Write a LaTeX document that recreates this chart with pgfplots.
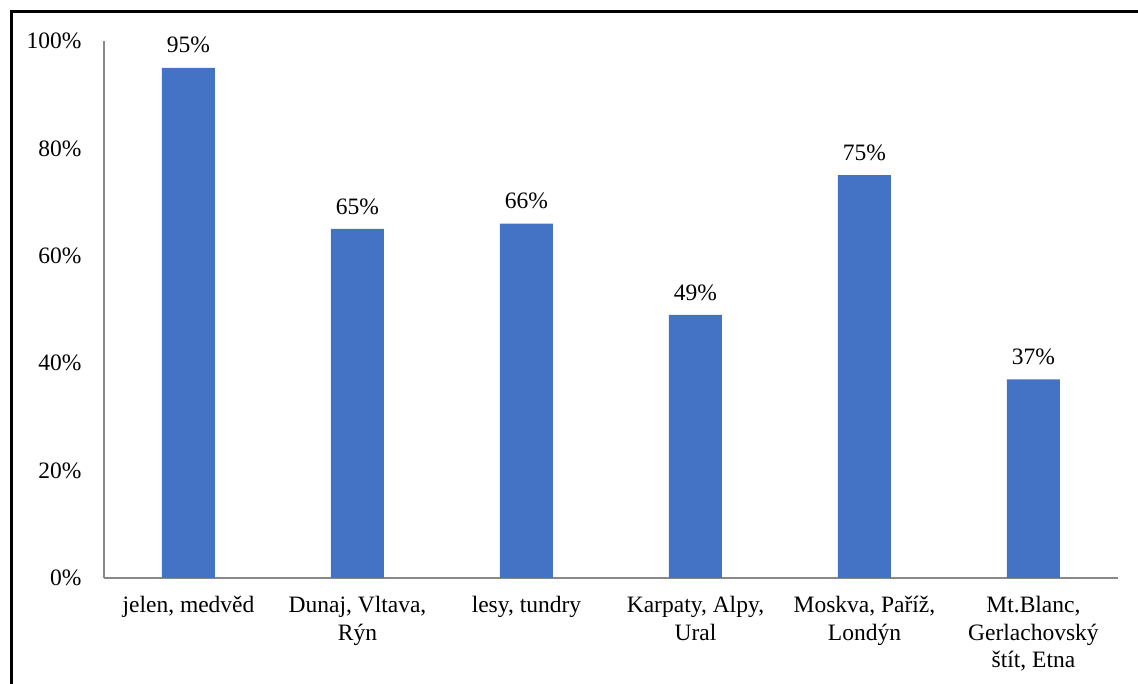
\documentclass[border=0pt]{standalone}
\usepackage{fontspec}
\setmainfont{Liberation Serif}
\usepackage{pgfplots}
\pgfplotsset{compat=1.18}
\definecolor{barblue}{HTML}{4472C4}
\definecolor{axgray}{HTML}{898989}
\begin{document}
\begin{tikzpicture}
\useasboundingbox (0,0) rectangle (1138pt,684pt);
\clip (0,0) rectangle (1138pt,684pt);
\draw[line width=3pt] (11pt,-20pt) -- (11pt,672pt) -- (1160pt,672pt);
\begin{axis}[
  at={(104pt,106pt)}, anchor=south west,
  width=1014pt, height=537pt, scale only axis,
  xmin=-0.5, xmax=5.5, ymin=0, ymax=100,
  separate axis lines,
  axis x line*=bottom, axis y line*=left,
  axis line style={axgray, line width=1.5pt},
  major tick length=0pt,
  ytick={0,20,40,60,80,100},
  yticklabel={\pgfmathprintnumber{\tick}\%},
  /pgf/number format/assume math mode=true,
  xtick={0,1,2,3,4,5},
  xticklabels={{jelen, medvěd},{Dunaj, Vltava,\\Rýn},{lesy, tundry},{Karpaty, Alpy,\\Ural},{Moskva, Paříž,\\Londýn},{Mt.Blanc,\\Gerlachovský\\štít, Etna}},
  tick label style={font=\fontsize{23.5}{27.5}\selectfont},
  xticklabel style={align=center, yshift=-15pt},
  yticklabel style={xshift=-19pt},
  ybar, bar width=53pt,
  nodes near coords={\pgfmathprintnumber{\pgfplotspointmeta}\%},
  nodes near coords style={font=\fontsize{23.5}{27.5}\selectfont, yshift=11pt},
]
\addplot[fill=barblue, draw=none] coordinates {(0,95) (1,65) (2,66) (3,49) (4,75) (5,37)};
\end{axis}
\end{tikzpicture}
\end{document}
